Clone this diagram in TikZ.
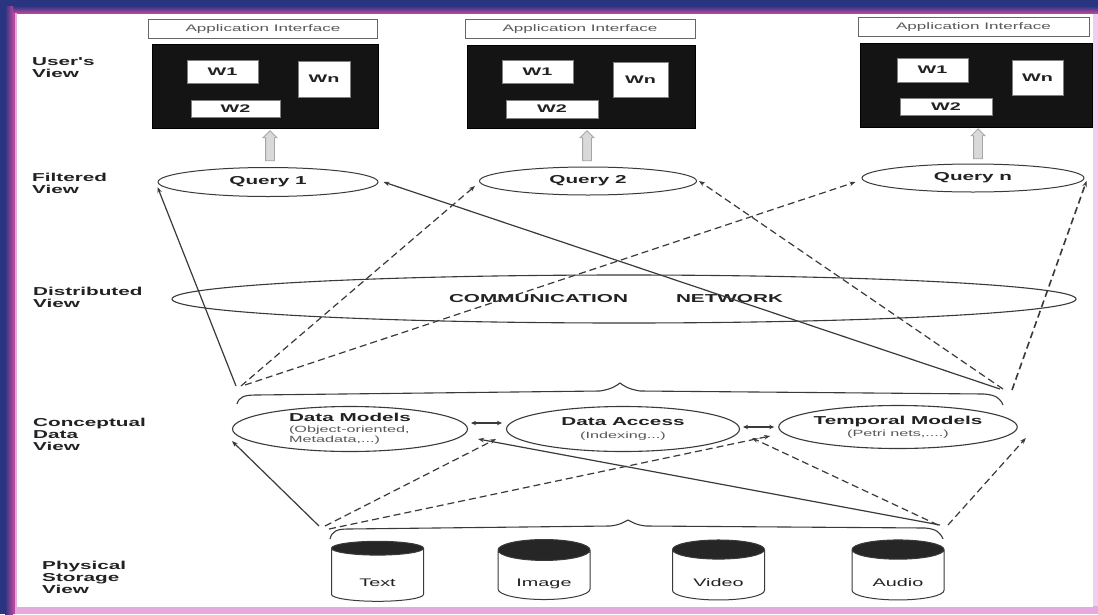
\documentclass[tikz,border=0pt]{standalone}
\usepackage{fontspec}
\setmainfont{Liberation Sans}
\newfontfamily\wf[FakeStretch=1.8]{Liberation Sans}
\usetikzlibrary{shapes.geometric,shapes.arrows,arrows.meta,calc}
\definecolor{navy}{HTML}{2A3582}
\definecolor{mag}{HTML}{B4479E}
\definecolor{pinkb}{HTML}{E6A8DE}
\definecolor{pinkr}{HTML}{F2CDEE}
\definecolor{lc}{HTML}{3A3A3A}
\definecolor{txt}{HTML}{222222}
\tikzset{
  lbl/.style={font=\wf\bfseries\fontsize{11.5}{12}\selectfont, align=left, anchor=west, inner sep=0, text=txt},
  app/.style={draw=gray!80!black, line width=0.8pt, font=\wf\fontsize{9.5}{11}\selectfont, text=gray!70!black, minimum width=229, minimum height=19, inner sep=0},
  scr/.style={fill=black!92, draw=black, inner sep=0},
  win/.style={fill=white, draw=gray, font=\wf\bfseries\fontsize{11}{12}\selectfont, text=txt, inner sep=0},
  qry/.style={ellipse, draw=lc, line width=1pt, font=\wf\bfseries\fontsize{11.5}{12}\selectfont, text=txt, inner sep=0},
  conc/.style={ellipse, draw=lc, line width=1.1pt, inner sep=0, text=txt, align=center},
  db/.style={cylinder, shape border rotate=90, draw=lc, line width=1pt, cylinder uses custom fill, cylinder end fill=black!85, cylinder body fill=white, aspect=0.38, minimum width=92, minimum height=60, inner sep=0, font=\wf\fontsize{11}{12}\selectfont, text=txt},
  sol/.style={draw=lc, line width=1.2pt, -{Stealth[length=6pt,width=4.5pt]}},
  dsh/.style={sol, dash pattern=on 7pt off 4pt},
  dbl/.style={draw=lc, line width=1.2pt, {Stealth[length=5pt,width=4.5pt]}-{Stealth[length=5pt,width=4.5pt]}},
  uparr/.style={single arrow, shape border rotate=90, fill=gray!30, draw=gray!70, line width=0.8pt, minimum height=30, inner sep=4pt, single arrow head extend=2.5pt},
  brc/.style={draw=lc, line width=1.1pt}
}
\newcommand{\dblab}[1]{\raisebox{-11pt}[0pt][0pt]{#1}}
\begin{document}
\begin{tikzpicture}[x=1pt,y=-1pt]
\useasboundingbox (0,0) rectangle (1098,614);
% frame
\fill[pinkr] (0,0) rectangle (1098,614);
\fill[pinkb] (0,606) rectangle (1098,614);
\fill[white] (17,14) rectangle (1093,607);
\fill[navy] (0,0) rectangle (1098,6);
\shade[top color=navy, bottom color=mag] (0,6) rectangle (1098,13);
\fill[navy] (0,0) rectangle (5,614);
\shade[left color=navy, right color=mag] (5,6) rectangle (13,614);
\fill[mag] (13,13) rectangle (15,614);
\fill[pinkb] (15,13) rectangle (17,607);

% left labels
\node[lbl] (l1) at (32,68) {User's\\View};
\node[lbl] (l2) at (32,183) {Filtered\\View};
\node[lbl] (l3) at (33,297) {Distributed\\View};
\node[lbl] (l4) at (33,434) {Conceptual\\Data\\View};
\node[lbl] (l5) at (42,577) {Physical\\Storage\\View};

% panels
\node[app] (a1) at (263,29) {Application Interface};
\node[scr, minimum width=226, minimum height=84] (b1) at (265,86) {};
\node[win, minimum width=71, minimum height=23] (w11) at (222.5,71.5) {W1};
\node[win, minimum width=52, minimum height=36] (w1n) at (324,79) {Wn};
\node[win, minimum width=89, minimum height=17] (w12) at (235.5,108.5) {W2};

\node[app, minimum width=230] (a2) at (580,29) {Application Interface};
\node[scr, minimum width=228, minimum height=83] (b2) at (581,86.5) {};
\node[win, minimum width=71, minimum height=23] (w21) at (537.5,71.5) {W1};
\node[win, minimum width=55, minimum height=35] (w2n) at (640.5,79.5) {Wn};
\node[win, minimum width=92, minimum height=18] (w22) at (552,109) {W2};

\node[app, minimum width=231] (a3) at (973.5,27) {Application Interface};
\node[scr, minimum width=232, minimum height=84] (b3) at (976,85) {};
\node[win, minimum width=71, minimum height=24] (w31) at (932.5,70) {W1};
\node[win, minimum width=51, minimum height=35] (w3n) at (1037.5,77.5) {Wn};
\node[win, minimum width=92, minimum height=17] (w32) at (946,106.5) {W2};

% up arrows
\node[uparr] (u1) at (270,148) {};
\node[uparr] (u2) at (587,148) {};
\node[uparr] (u3) at (978,146) {};

% queries
\node[qry, minimum width=220, minimum height=29] (q1) at (268,182) {Query 1};
\node[qry, minimum width=217, minimum height=28] (q2) at (588,181) {Query 2};
\node[qry, minimum width=222, minimum height=28] (qn) at (973,178) {Query n};

% network
\node[ellipse, draw=lc, line width=1.1pt, minimum width=904, minimum height=48, inner sep=0] (net) at (624,299) {};
\node[font=\wf\bfseries\fontsize{11.5}{12}\selectfont, text=txt, inner sep=0] (nett) at (616,299) {COMMUNICATION\hspace{48pt}NETWORK};

% conceptual
\node[conc, minimum width=235, minimum height=45, align=left] (dm) at (350,429)
  {{\wf\bfseries\fontsize{11.5}{13}\selectfont Data Models}\\[-1pt]
   {\wf\fontsize{9}{10}\selectfont\color{gray!70!black}(Object-oriented,}\\[-2pt]
   {\wf\fontsize{9}{10}\selectfont\color{gray!70!black}Metadata,...)}};
\node[conc, minimum width=233, minimum height=45] (da) at (623,429)
  {{\wf\bfseries\fontsize{11.5}{13}\selectfont Data Access}\\[1pt]
   {\wf\fontsize{9}{10}\selectfont\color{gray!70!black}(Indexing...)}};
\node[conc, minimum width=235, minimum height=43] (tm) at (898,427)
  {{\wf\bfseries\fontsize{11.5}{13}\selectfont Temporal Models}\\[0pt]
   {\wf\fontsize{9}{10}\selectfont\color{gray!70!black}(Petri nets,....)}};

% braces
\draw[brc] (237,404) .. controls (239,397) and (244,395) .. (256,395) -- (600,391)
  .. controls (612,389) and (616,386) .. (620,383)
  .. controls (624,386) and (628,389) .. (640,391) -- (984,394)
  .. controls (996,395) and (1000,398) .. (1003,405);
\draw[brc] (330,539) .. controls (332,531) and (337,529) .. (348,529) -- (610,526)
  .. controls (620,525) and (624,522) .. (628,520)
  .. controls (632,522) and (636,525) .. (646,526) -- (925,528)
  .. controls (936,529) and (940,532) .. (943,539);

% cylinders
\node[db] (c1) at (377.5,575) {\dblab{Text}};
\node[db] (c2) at (544,575) {\dblab{Image}};
\node[db] (c3) at (718.5,575) {\dblab{Video}};
\node[db] (c4) at (898,575) {\dblab{Audio}};

% convergence points
\coordinate (ul) at (236,386);
\coordinate (ur) at (1000,389);
\coordinate (ll) at (319,526);
\coordinate (lr) at (940,525);

% upper connectors
\draw[sol] (ul) -- ([yshift=-5pt]q1.west);
\draw[dsh] ([xshift=5pt]ul) -- ([xshift=-4pt,yshift=-5pt]q2.west);
\draw[dsh] ([xshift=9pt,yshift=1pt]ul) -- ([xshift=-6pt,yshift=-4pt]qn.west);
\draw[sol] (ur) -- ([xshift=5pt]q1.east);
\draw[dsh] ([xshift=3pt]ur) -- ([xshift=2pt]q2.east);
\draw[dsh, line width=1.6pt] ([xshift=12pt,yshift=-1pt]ur) -- ([xshift=2pt,yshift=-3pt]qn.east);

% lower connectors
\draw[sol] (ll) -- ([yshift=-12pt]dm.west);
\draw[dsh] ([xshift=6pt]ll) -- ([xshift=-10pt,yshift=-10pt]da.west);
\draw[dsh] ([xshift=10pt,yshift=-3pt]ll) -- ([xshift=-8pt,yshift=-9pt]tm.west);
\draw[sol] (lr) -- ([xshift=10pt,yshift=-10pt]dm.east);
\draw[dsh] ([xshift=-2pt]lr) -- ([xshift=12pt,yshift=-9pt]da.east);
\draw[dsh] ([xshift=8pt]lr) -- ([xshift=8pt,yshift=-11pt]tm.east);

% double arrows
\draw[dbl] ([xshift=3pt,yshift=6pt]dm.east) -- ([xshift=-4pt,yshift=6pt]da.west);
\draw[dbl] ([xshift=3pt,yshift=2pt]da.east) -- ([xshift=-4pt]tm.west);
\end{tikzpicture}
\end{document}
